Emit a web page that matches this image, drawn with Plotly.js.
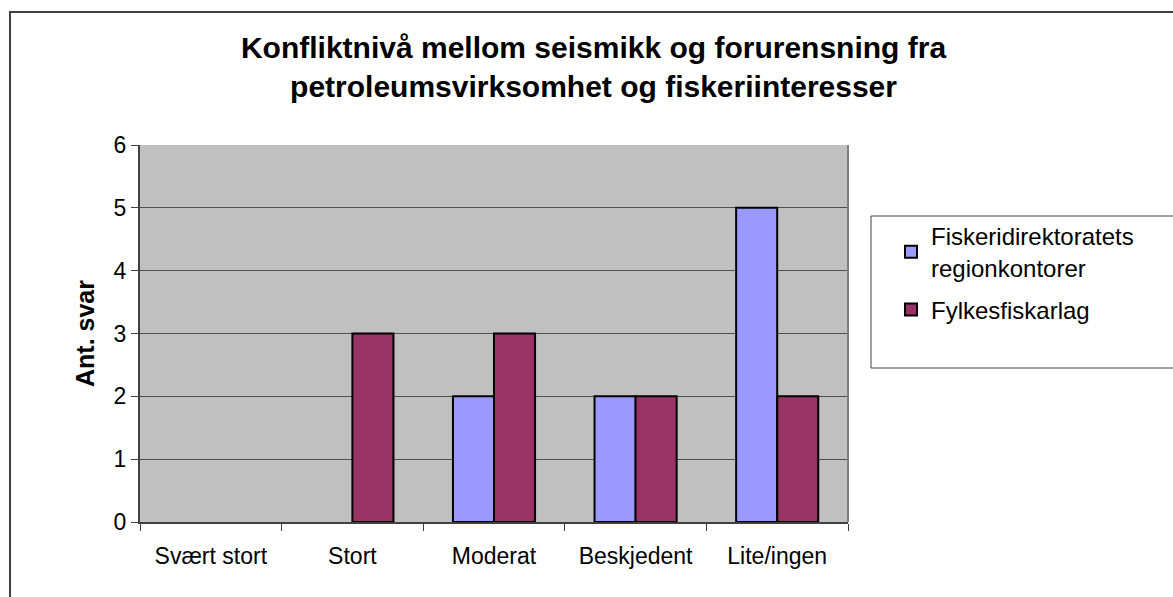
<!DOCTYPE html>
<html>
<head>
<meta charset="utf-8">
<script src="https://cdn.plot.ly/plotly-3.0.1.min.js"></script>
<style>
html,body{margin:0;padding:0;background:#fff;}
#wrap{position:relative;width:1173px;height:597px;overflow:hidden;}
#chart{width:1173px;height:597px;}
#frame{position:absolute;left:9px;top:11px;width:1200px;height:700px;border-left:2px solid #404040;border-top:2px solid #404040;pointer-events:none;z-index:10;box-sizing:border-box;}
</style>
</head>
<body>
<div id="wrap"><div id="chart"></div><div id="frame"></div></div>
<script>
const categories = ["Svært stort", "Stort", "Moderat", "Beskjedent", "Lite/ingen"];
const seriesNames = ["Fiskeridirektoratets<br>regionkontorer", "Fylkesfiskarlag"];
const fiskeridirektoratet = [0, 0, 2, 2, 5];
const fylkesfiskarlag = [0, 3, 3, 2, 2];
const yTicks = [0, 1, 2, 3, 4, 5, 6];

const W = 1173, H = 597;
const L = 140, R = 848, T = 145, B = 522;
const px = x => (x - L) / (R - L);
const py = y => (B - y) / (B - T);
const outline = vals => vals.map(v => v === 0 ? 0 : 2);

const traces = [
  {type: 'bar', name: seriesNames[0], legendgroup: 'g1', x: categories, y: fiskeridirektoratet,
   marker: {color: '#9999FF', line: {color: '#000000', width: outline(fiskeridirektoratet)}}},
  {type: 'bar', name: seriesNames[1], legendgroup: 'g2', x: categories, y: fylkesfiskarlag,
   marker: {color: '#993366', line: {color: '#000000', width: outline(fylkesfiskarlag)}}}
];

const layout = {
  width: W, height: H,
  margin: {l: L, r: W - R, t: T, b: H - B, pad: 0},
  paper_bgcolor: '#ffffff',
  plot_bgcolor: '#C0C0C0',
  font: {family: 'Liberation Sans, Arial, sans-serif', color: '#000000', size: 23},
  title: {
    text: '<b>Konfliktnivå mellom seismikk og forurensning fra<br>petroleumsvirksomhet og fiskeriinteresser</b>',
    font: {size: 30, family: 'Liberation Sans, Arial, sans-serif', color: '#000'},
    x: 0.506, xanchor: 'center', xref: 'container',
    y: 1 - 58 / H, yanchor: 'top', yref: 'container'
  },
  barmode: 'group',
  bargap: 0.42,
  bargroupgap: 0,
  xaxis: {
    type: 'category',
    range: [-0.5, 4.5],
    ticks: 'outside', tickson: 'boundaries', ticklen: 7, tickwidth: 1, tickcolor: '#404040',
    showline: true, linecolor: '#404040', linewidth: 2,
    showgrid: false,
    tickfont: {size: 23},
    ticklabelstandoff: 12,
    fixedrange: true
  },
  yaxis: {
    range: [0, 6],
    tickvals: yTicks,
    ticks: 'outside', ticklen: 7, tickwidth: 1, tickcolor: '#404040',
    showline: true, linecolor: '#404040', linewidth: 2,
    showgrid: true, gridcolor: '#505050', gridwidth: 1,
    zeroline: false,
    tickfont: {size: 23},
    title: {text: '<b>Ant. svar</b>', font: {size: 25}, standoff: 12},
    fixedrange: true
  },
  showlegend: true,
  legend: {
    x: px(891), y: py(214), xanchor: 'left', yanchor: 'top',
    bgcolor: 'rgba(0,0,0,0)', borderwidth: 0,
    font: {size: 24},
    tracegroupgap: 8,
    itemsizing: 'constant'
  },
  shapes: [
    {type: 'line', xref: 'paper', yref: 'paper', x0: 1, x1: 1, y0: 0, y1: 1,
     line: {color: '#808080', width: 2}},
    {type: 'rect', xref: 'paper', yref: 'paper', x0: px(871), x1: px(1180), y0: py(368), y1: py(216),
     line: {color: '#404040', width: 1}, fillcolor: 'rgba(0,0,0,0)'}
  ]
};

Plotly.newPlot('chart', traces, layout, {displayModeBar: false, staticPlot: true});
</script>
</body>
</html>
